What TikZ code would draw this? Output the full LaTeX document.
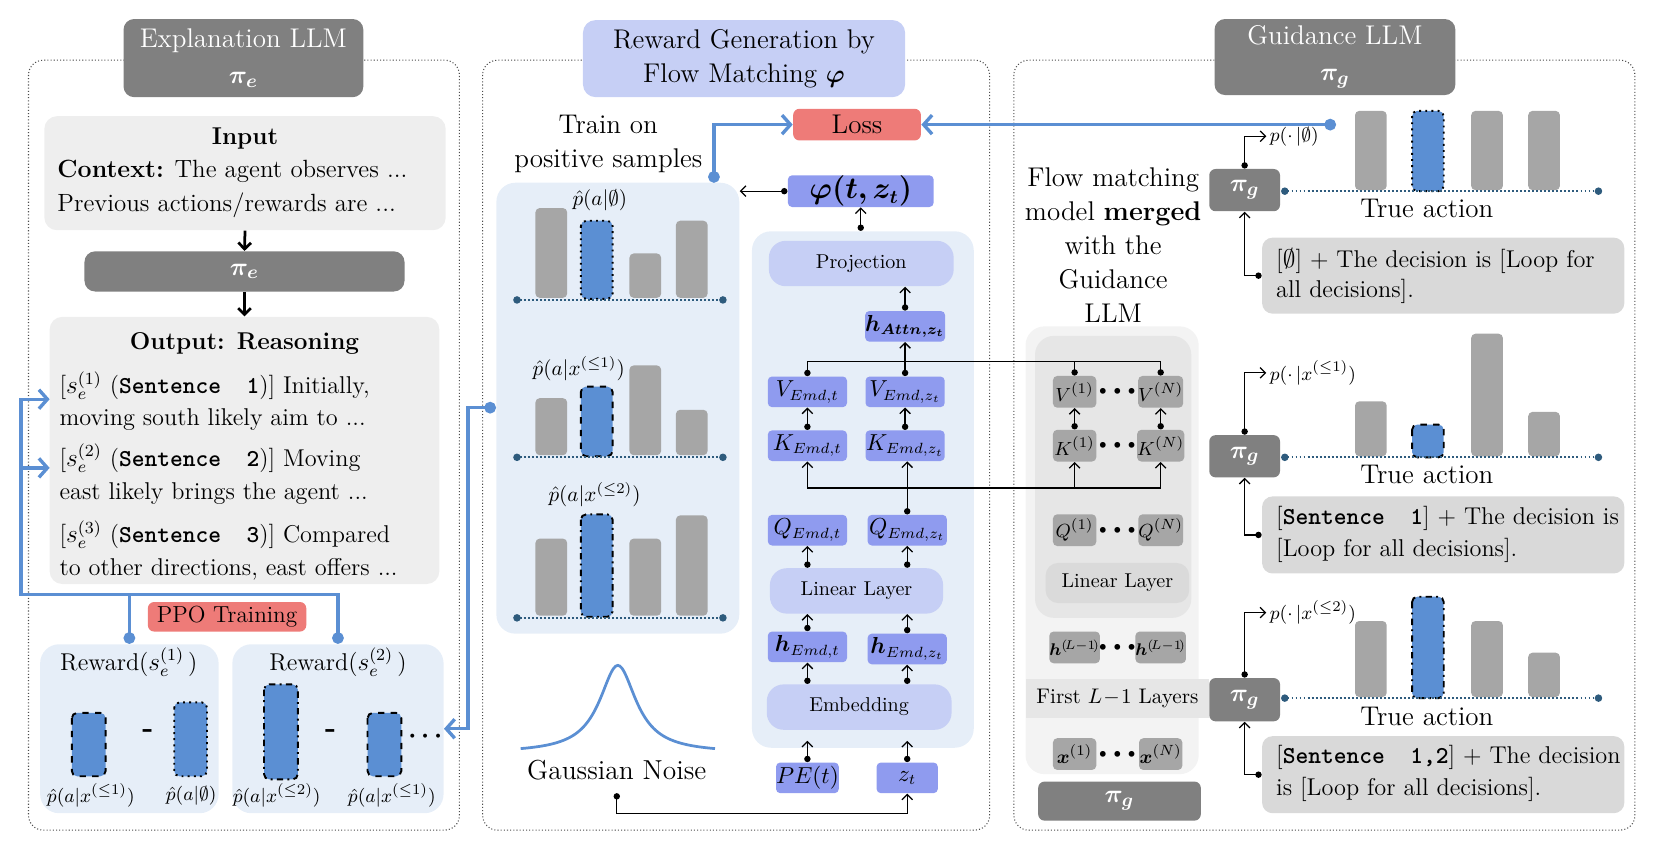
\documentclass[tikz,border=0pt]{standalone}
\usepackage{amsmath}
\usepackage{amssymb}
\usepackage{bm}
\usetikzlibrary{positioning}
\usetikzlibrary{arrows.meta}

\definecolor{gdark}{HTML}{808080}
\definecolor{glight}{HTML}{EEEEEE}
\definecolor{tgray}{HTML}{D9D9D9}
\definecolor{bpale}{HTML}{E6EEF8}
\definecolor{lav}{HTML}{C6CFF5}
\definecolor{peri}{HTML}{8F9BEF}
\definecolor{lossred}{HTML}{EE7B78}
\definecolor{barblue}{HTML}{5B8FD3}
\definecolor{bargray}{HTML}{A6A6A6}
\definecolor{baseblue}{HTML}{2E5B7D}
\definecolor{linkblue}{HTML}{5B8FD3}
\definecolor{gouter}{HTML}{F3F3F3}
\definecolor{ginner}{HTML}{E6E6E6}
\definecolor{glayer}{HTML}{DADADA}

\tikzset{
  panel/.style={draw=black!70, densely dotted, line width=0.5pt, rounded corners=7pt},
  darkbox/.style={fill=gdark, text=white, rounded corners=5pt, inner sep=0pt, align=center},
  greybox/.style={fill=glight, rounded corners=6pt, inner sep=0pt},
  textbox/.style={fill=tgray, rounded corners=5pt, inner sep=0pt},
  palebox/.style={fill=bpale, rounded corners=9pt, inner sep=0pt},
  layerbox/.style={fill=lav, rounded corners=8pt, inner sep=0pt, font=\fontsize{9.5}{11}\selectfont},
  emdbox/.style={fill=peri, rounded corners=2pt, inner sep=0pt, minimum width=37.5pt, minimum height=14.5pt, font=\fontsize{10.5}{12}\selectfont},
  redbox/.style={fill=lossred, rounded corners=3pt, inner sep=0pt},
  gsmall/.style={fill=bargray, rounded corners=2pt, inner sep=0pt, minimum width=20.5pt, minimum height=15pt, font=\fontsize{9.5}{11}\selectfont},
  gdots/.style={inner sep=0pt, font=\fontsize{6}{7}\selectfont},
  txt/.style={inner sep=1pt, font=\fontsize{11.5}{14}\selectfont},
  bigtxt/.style={inner sep=1pt, font=\fontsize{12.8}{16}\selectfont},
  plabel/.style={inner sep=1pt, font=\fontsize{10}{12}\selectfont},
  slabel/.style={inner sep=1.5pt, font=\fontsize{9.5}{11}\selectfont},
  grbar/.style={fill=bargray, rounded corners=2pt},
  blbar/.style={fill=barblue, draw=black, line width=0.9pt, rounded corners=2.5pt},
  baseln/.style={draw=baseblue, densely dotted, line width=0.9pt, arrows={Circle[length=3.5pt]-Circle[length=3.5pt]}},
  link/.style={draw=linkblue, line width=1.6pt},
  linkarr/.style={link, arrows={Circle[length=5.5pt]-Straight Barb[length=4pt,width=9pt]}},
  linkdot/.style={link, arrows={Circle[length=5.5pt]-}},
  linkto/.style={link, arrows={-Straight Barb[length=4pt,width=9pt]}},
  dotarr/.style={line width=0.6pt, arrows={Circle[length=3pt]-Straight Barb[length=2.5pt,width=5pt]}},
  dotline/.style={line width=0.6pt, arrows={Circle[length=3pt]-}},
  dotdot/.style={line width=0.6pt, arrows={Circle[length=3pt]-Circle[length=3pt]}},
  plainarr/.style={line width=0.6pt, arrows={-Straight Barb[length=2.5pt,width=5pt]}},
  boldarr/.style={line width=1.3pt, arrows={-Straight Barb[length=3pt,width=6pt]}},
}

\begin{document}
\begin{tikzpicture}[x=0.5pt,y=-0.5pt]
\useasboundingbox (0,0) rectangle (1568,805);

\draw[panel] (27,57) rectangle (435,786);
\draw[panel] (457,57) rectangle (937,786);
\draw[panel] (960,57) rectangle (1548,786);

% explanation LLM
\node[darkbox, minimum width=113.5pt, minimum height=37pt, font=\fontsize{12.8}{17}\selectfont] (explTitle) at (230.5,55) {Explanation LLM\\$\bm{\pi_e}$};
\node[greybox, minimum width=190pt, minimum height=54pt] (input) at (232,164) {};
\node[txt] (inHead) at (232,131) {\textbf{Input}};
\node[txt, anchor=west, font=\fontsize{11.8}{14}\selectfont] (inCtx) at (52,162) {\textbf{Context:} The agent observes ...};
\node[txt, anchor=west, font=\fontsize{11.8}{14}\selectfont] (inPrev) at (52,194) {Previous actions/rewards are ...};
\node[darkbox, minimum width=151.5pt, minimum height=19pt, font=\fontsize{12.5}{14}\selectfont] (piE) at (231.5,257) {$\bm{\pi_e}$};
\node[greybox, minimum width=184.5pt, minimum height=126.5pt] (output) at (231.5,426.5) {};
\node[txt] (outHead) at (231.5,325) {\textbf{Output: Reasoning}};
\node[txt, anchor=west] (s1a) at (54,365) {[$s_e^{(1)}$ (\texttt{\bfseries Sentence\ \ 1})] Initially,};
\node[txt, anchor=west] (s1b) at (54,397) {moving south likely aim to ...};
\node[txt, anchor=west] (s2a) at (54,434) {[$s_e^{(2)}$ (\texttt{\bfseries Sentence\ \ 2})] Moving};
\node[txt, anchor=west] (s2b) at (54,467) {east likely brings the agent ...};
\node[txt, anchor=west] (s3a) at (54,506) {[$s_e^{(3)}$ (\texttt{\bfseries Sentence\ \ 3})] Compared};
\node[txt, anchor=west] (s3b) at (54,539) {to other directions, east offers ...};
\draw[boldarr] (input.south) -- (piE.north);
\draw[boldarr] (piE.south) -- (output.north);

\node[redbox, minimum width=75pt, minimum height=14pt, txt, font=\fontsize{11}{13}\selectfont] (ppo) at (215,584) {PPO Training};
\node[palebox, minimum width=84.5pt, minimum height=80pt] (rew1) at (122.5,690) {};
\node[palebox, minimum width=100pt, minimum height=80pt] (rew2) at (320,690) {};
\node[txt] (rew1T) at (122,627) {Reward($s_e^{(1)}$\,)};
\node[txt] (rew2T) at (320,627) {Reward($s_e^{(2)}$\,)};
\draw[blbar, dashed] (68,675) rectangle (100,735);
\node[font=\fontsize{14}{14}\selectfont\bfseries] (minus1) at (140,695) {-};
\draw[blbar, dotted] (165,665) rectangle (196,735);
\draw[blbar, dash dot] (250,648) rectangle (282,738);
\node[font=\fontsize{14}{14}\selectfont\bfseries] (minus2) at (313,695) {-};
\draw[blbar, dashed] (348,675) rectangle (380,735);
\node[font=\fontsize{12}{14}\selectfont] (more) at (405,697) {$\bm{\cdots}$};
\node[plabel, font=\fontsize{9.5}{11}\selectfont] (rl1) at (86,753) {$\hat p(a|x^{(\le 1)})$};
\node[plabel, font=\fontsize{9.5}{11}\selectfont] (rl2) at (181,753) {$\hat p(a|\emptyset)$};
\node[plabel, font=\fontsize{9.5}{11}\selectfont] (rl3) at (262,753) {$\hat p(a|x^{(\le 2)})$};
\node[plabel, font=\fontsize{9.5}{11}\selectfont] (rl4) at (371,753) {$\hat p(a|x^{(\le 1)})$};

% flow matching
\node[fill=lav, rounded corners=6pt, inner sep=0pt, minimum width=152.5pt, minimum height=36.5pt, align=center, font=\fontsize{12.8}{16}\selectfont] (rgTitle) at (704.5,55.5) {Reward Generation by\\Flow Matching $\bm{\varphi}$};
\node[bigtxt, align=center] (trainTxt) at (576,136) {Train on\\positive samples};
\node[redbox, minimum width=60.5pt, minimum height=15pt, bigtxt] (loss) at (811.5,118) {Loss};
\node[palebox, minimum width=115pt, minimum height=213.5pt] (samples) at (585,386.5) {};
\node[emdbox, minimum width=69pt, minimum height=15pt, font=\fontsize{13.5}{15}\selectfont] (phi) at (815,181) {$\bm{\varphi(t,z_t)}$};
\node[palebox, minimum width=105pt, minimum height=244.5pt] (inner) at (817,463.5) {};
\node[layerbox, minimum width=87.5pt, minimum height=21.5pt] (proj) at (815.5,249.5) {Projection};
\node[emdbox] (hAttn) at (857,309) {$\bm{h}_{\bm{Attn,z_t}}$};
\node[emdbox] (vT) at (764.5,371) {$V_{Emd,t}$};
\node[emdbox] (vZ) at (857,371) {$V_{Emd,z_t}$};
\node[emdbox] (kT) at (764.5,422) {$K_{Emd,t}$};
\node[emdbox] (kZ) at (857,422) {$K_{Emd,z_t}$};
\node[emdbox] (qT) at (764.5,502) {$Q_{Emd,t}$};
\node[emdbox] (qZ) at (859,502) {$Q_{Emd,z_t}$};
\node[layerbox, minimum width=82pt, minimum height=21.5pt] (lin) at (811,559.5) {Linear Layer};
\node[emdbox] (hT) at (764.5,612.5) {$\bm{h}_{Emd,t}$};
\node[emdbox] (hZ) at (859,614.5) {$\bm{h}_{Emd,z_t}$};
\node[layerbox, minimum width=87.5pt, minimum height=21.5pt] (emb) at (813.5,669.5) {Embedding};
\node[emdbox, minimum width=28.5pt] (pe) at (764.5,736.5) {$PE(t)$};
\node[emdbox, minimum width=29pt] (zt) at (859,736.5) {$z_t$};

\node[plabel] (pc1) at (568,190) {$\hat p(a|\emptyset)$};
\foreach \xa/\yt in {507/197,596/240,640/209}
  \fill[grbar] (\xa,\yt) rectangle (\xa+30,282);
\draw[blbar, dotted] (550,209) rectangle (580,283);
\draw[baseln] (486,284) -- (688,284);
\node[plabel] (pc2) at (548,349) {$\hat p(a|x^{(\le 1)})$};
\foreach \xa/\yt in {507/377,596/346,640/388}
  \fill[grbar] (\xa,\yt) rectangle (\xa+30,431);
\draw[blbar, dashed] (550,366) rectangle (580,432);
\draw[baseln] (486,433) -- (688,433);
\node[plabel] (pc3) at (563,468) {$\hat p(a|x^{(\le 2)})$};
\foreach \xa/\yt in {507/510,596/510,640/488}
  \fill[grbar] (\xa,\yt) rectangle (\xa+30,583);
\draw[blbar, dash dot] (550,487) rectangle (580,584);
\draw[baseln] (486,585) -- (688,585);

\draw[linkblue, line width=1.3pt] plot[domain=-92:92, samples=93, smooth] ({585+\x},{713-83/(1+\x*\x/450)});
\node[bigtxt, font=\fontsize{13}{15}\selectfont] (gauss) at (584,729) {Gaussian Noise};
\coordinate (gn) at (584,751);

% guidance LLM
\node[darkbox, minimum width=114pt, minimum height=36pt, font=\fontsize{12.8}{17}\selectfont] (gTitle) at (1264,54) {Guidance LLM\\$\bm{\pi_g}$};
\node[fill=gouter, rounded corners=9pt, minimum width=82pt, minimum height=212pt, inner sep=0pt] (gOuter) at (1053,521) {};
\node[bigtxt, align=center] (fmTxt) at (1054,232) {Flow matching\\model \textbf{merged}\\with the\\Guidance\\LLM};
\node[fill=ginner, rounded corners=9pt, minimum width=74pt, minimum height=133.5pt, inner sep=0pt] (gInner) at (1054,451.5) {};
\node[fill=ginner, minimum width=87pt, minimum height=18.5pt, inner sep=0pt, font=\fontsize{10}{12}\selectfont] (firstL) at (1058,661.5) {First $L\!-\!1$ Layers};
\node[gsmall] (V1) at (1017.5,371) {$V^{(1)}$};
\node[gdots] (vdots) at (1058,371) {$\bullet\,\bullet\,\bullet$};
\node[gsmall] (VN) at (1099,371) {$V^{(N)}$};
\node[gsmall] (K1) at (1017.5,422) {$K^{(1)}$};
\node[gdots] (kdots) at (1058,422) {$\bullet\,\bullet\,\bullet$};
\node[gsmall] (KN) at (1099,422) {$K^{(N)}$};
\node[gsmall] (Q1) at (1017.5,502) {$Q^{(1)}$};
\node[gdots] (qdots) at (1058,502) {$\bullet\,\bullet\,\bullet$};
\node[gsmall] (QN) at (1099,502) {$Q^{(N)}$};
\node[fill=glayer, rounded corners=6pt, minimum width=68pt, minimum height=19pt, inner sep=0pt, font=\fontsize{9.5}{11}\selectfont] (linG) at (1058,552) {Linear Layer};
\node[gsmall, font=\fontsize{8.5}{10}\selectfont] (h1) at (1017.5,613) {$\bm{h}^{(\!L-1\!)}$};
\node[gdots] (hdots) at (1058,613) {$\bullet\,\bullet\,\bullet$};
\node[gsmall, font=\fontsize{8.5}{10}\selectfont] (hN) at (1099,613) {$\bm{h}^{(\!L-1\!)}$};
\node[gsmall] (x1) at (1017.5,714) {$\bm{x}^{(1)}$};
\node[gdots] (xdots) at (1058,714) {$\bullet\,\bullet\,\bullet$};
\node[gsmall] (xN) at (1099,714) {$\bm{x}^{(N)}$};
\node[darkbox, minimum width=77pt, minimum height=18.5pt, rounded corners=3pt, font=\fontsize{13}{14}\selectfont] (piGbig) at (1060,758.5) {$\bm{\pi_g}$};

\node[slabel, anchor=west] (pl1) at (1199,129) {$p(\cdot\,|\emptyset)$};
\foreach \xa in {1283,1393,1447}
  \fill[grbar] (\xa,105) rectangle (\xa+30,180);
\draw[blbar, dotted] (1337,105) rectangle (1367,181);
\draw[baseln] (1213,181) -- (1517,181);
\node[bigtxt] (true1) at (1351,197) {True action};
\node[darkbox, minimum width=33.5pt, minimum height=20pt, rounded corners=3pt, font=\fontsize{12.5}{14}\selectfont] (piG1) at (1178.5,180) {$\bm{\pi_g}$};
\node[textbox, minimum width=171.5pt, minimum height=36pt] (txt1) at (1366.5,261) {};
\node[txt, anchor=west] (t1a) at (1206,247) {[$\emptyset$] + The decision is [Loop for};
\node[txt, anchor=west] (t1b) at (1206,276) {all decisions].};

\node[slabel, anchor=west] (pl2) at (1199,353) {$p(\cdot\,|x^{(\le 1)})$};
\foreach \xa/\yt in {1283/380,1393/316,1447/390}
  \fill[grbar] (\xa,\yt) rectangle (\xa+30,432);
\draw[blbar, dashed] (1337,402) rectangle (1367,433);
\draw[baseln] (1213,433) -- (1517,433);
\node[bigtxt] (true2) at (1351,449) {True action};
\node[darkbox, minimum width=33.5pt, minimum height=20pt, rounded corners=3pt, font=\fontsize{12.5}{14}\selectfont] (piG2) at (1178.5,432) {$\bm{\pi_g}$};
\node[textbox, minimum width=171.5pt, minimum height=36.5pt] (txt2) at (1366.5,506.5) {};
\node[txt, anchor=west] (t2a) at (1206,491) {[\texttt{\bfseries Sentence\ \ 1}] + The decision is};
\node[txt, anchor=west] (t2b) at (1206,521) {[Loop for all decisions].};

\node[slabel, anchor=west] (pl3) at (1199,580) {$p(\cdot\,|x^{(\le 2)})$};
\foreach \xa/\yt in {1283/588,1393/588,1447/618}
  \fill[grbar] (\xa,\yt) rectangle (\xa+30,660);
\draw[blbar, dash dot] (1337,565) rectangle (1367,661);
\draw[baseln] (1213,661) -- (1517,661);
\node[bigtxt] (true3) at (1351,678) {True action};
\node[darkbox, minimum width=33.5pt, minimum height=20.5pt, rounded corners=3pt, font=\fontsize{12.5}{14}\selectfont] (piG3) at (1178.5,662.5) {$\bm{\pi_g}$};
\node[textbox, minimum width=171.5pt, minimum height=36.5pt] (txt3) at (1366.5,733.5) {};
\node[txt, anchor=west] (t3a) at (1206,717) {[\texttt{\bfseries Sentence\ \ 1,2}] + The decision};
\node[txt, anchor=west] (t3b) at (1206,747) {is [Loop for all decisions].};

% thin connectors
\draw[dotarr] (phi.west) -- (samples.east |- phi.west);
\draw[dotarr] (phi.south |- inner.north) -- (phi.south);
\draw[dotarr] (hAttn.north) -- (hAttn.north |- proj.south);
\coordinate (vj) at (857,342);
\draw[dotdot] (vT.north) |- (VN.north |- vj) -- (VN.north);
\draw[dotline] (V1.north) -- (V1.north |- vj);
\draw[dotarr] (vZ.north) -- (hAttn.south);
\draw[dotarr] (kT.north) -- (vT.south);
\draw[dotarr] (kZ.north) -- (vZ.south);
\draw[dotarr] (K1.north) -- (V1.south);
\draw[dotarr] (KN.north) -- (VN.south);
\coordinate (kj) at (859,462);
\draw[dotarr] (qZ.north) -- (qZ.north |- kZ.south);
\draw[plainarr] (kj) -| (kT.south);
\draw[plainarr] (kj) -| (KN.south);
\draw[plainarr] (K1.south |- kj) -- (K1.south);
\draw[dotarr] (qT.south |- lin.north) -- (qT.south);
\draw[dotarr] (qZ.south |- lin.north) -- (qZ.south);
\draw[dotarr] (hT.north) -- (hT.north |- lin.south);
\draw[dotarr] (hZ.north) -- (hZ.north |- lin.south);
\draw[dotarr] (hT.south |- emb.north) -- (hT.south);
\draw[dotarr] (hZ.south |- emb.north) -- (hZ.south);
\draw[dotarr, shorten >=5pt] (pe.north) -- (pe.north |- emb.south);
\draw[dotarr, shorten >=5pt] (zt.north) -- (zt.north |- emb.south);
\draw[dotarr] (gn) -- (584,770) -| (zt.south);
\draw[dotarr] (piG1.north) |- (pl1.west);
\draw[dotarr] (txt1.west) -| (piG1.south);
\draw[dotarr] (piG2.north) |- (pl2.west);
\draw[dotarr] (txt2.west) -| (piG2.south);
\draw[dotarr] (piG3.north) |- (pl3.west);
\draw[dotarr] (txt3.west) -| (piG3.south);

% blue links
\coordinate (fbL) at (20,563);
\coordinate (in1) at (47,378);
\coordinate (in2) at (47,443);
\draw[linkarr] (rew2.north) |- (fbL) |- (in1);
\draw[linkdot] (rew1.north) -- (rew1.north |- fbL);
\draw[linkto] (fbL |- in2) -- (in2);
\coordinate (tdot) at (676,173);
\draw[linkarr] (tdot) |- (loss.west);
\coordinate (gdot) at (1265,118);
\draw[linkarr] (gdot) -- (loss.east);
\coordinate (sbend) at (443,386);
\draw[linkarr] (samples.west |- sbend) -- (sbend) |- (rew2.east);
\end{tikzpicture}
\end{document}
